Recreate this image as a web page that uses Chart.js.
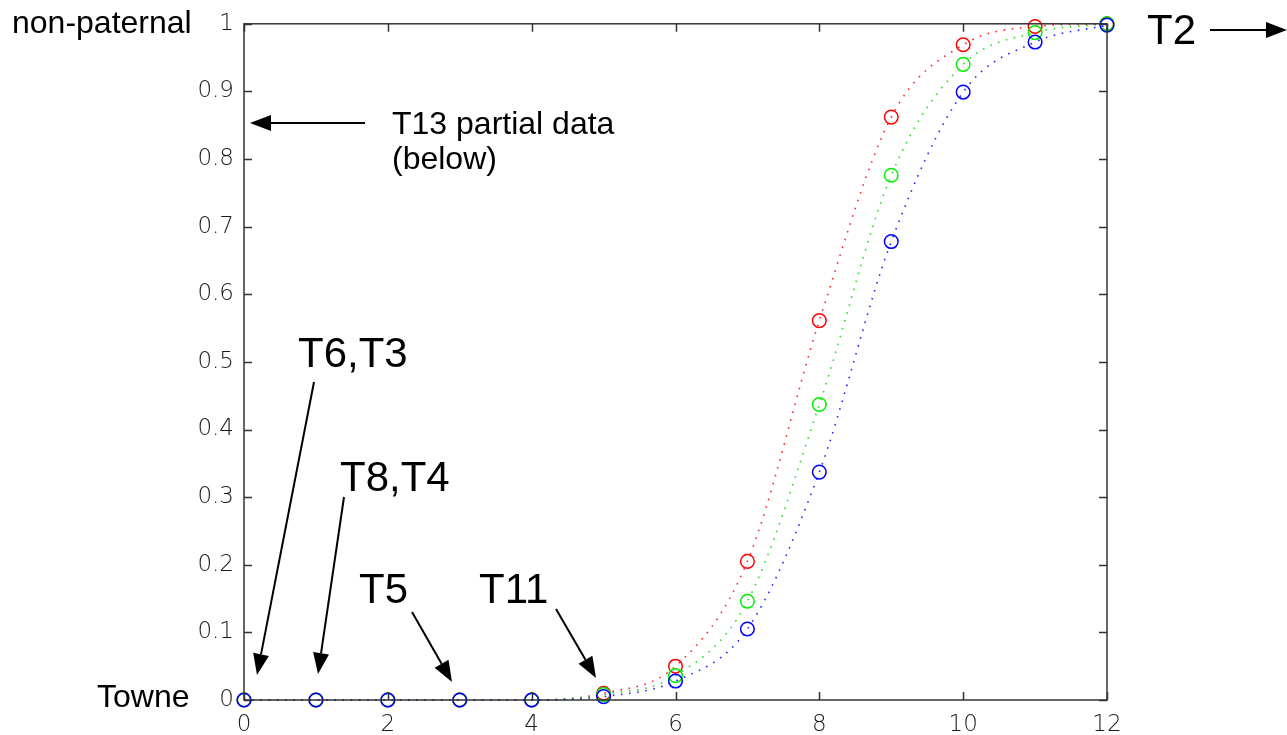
<!DOCTYPE html>
<html>
<head>
<meta charset="utf-8">
<script src="https://cdn.jsdelivr.net/npm/chart.js@4/dist/chart.umd.min.js"></script>
<style>
html,body{margin:0;padding:0;background:#fff;}
#wrap{width:1287px;height:735px;position:relative;}
</style>
</head>
<body>
<div id="wrap"><canvas id="c" width="1287" height="735"></canvas></div>
<script>
// ---- data ----
const xValues = [0, 1, 2, 3, 4, 5, 6, 7, 8, 9, 10, 11, 12];
const redValues   = [0, 0, 0, 0, 0, 0.010, 0.050, 0.205, 0.561, 0.862, 0.969, 0.996, 1.000];
const greenValues = [0, 0, 0, 0, 0, 0.008, 0.036, 0.146, 0.437, 0.776, 0.940, 0.987, 1.000];
const blueValues  = [0, 0, 0, 0, 0, 0.005, 0.028, 0.105, 0.337, 0.678, 0.899, 0.973, 0.998];
const xTickValues = [0, 2, 4, 6, 8, 10, 12];
const xTickLabels = ['0', '2', '4', '6', '8', '10', '12'];
const yTickValues = [0, 0.1, 0.2, 0.3, 0.4, 0.5, 0.6, 0.7, 0.8, 0.9, 1];
const yTickLabels = ['0', '0.1', '0.2', '0.3', '0.4', '0.5', '0.6', '0.7', '0.8', '0.9', '1'];

function pts(arr){ return xValues.map((x,i)=>({x:x, y:arr[i]})); }

function ds(label, values, color, lineColor){
  return {
    label: label,
    data: pts(values),
    borderColor: lineColor,
    borderWidth: 1.6,
    borderDash: [1.6, 6.6],
    pointStyle: 'circle',
    pointRadius: 6.8,
    pointBorderWidth: 1.5,
    pointBorderColor: color,
    pointBackgroundColor: 'rgba(0,0,0,0)',
    fill: false,
    clip: false,
    cubicInterpolationMode: 'monotone'
  };
}

const tickFont = {family: '"DejaVu Sans"', size: 23, weight: 200};

// inward ticks on all four sides + frame
const framePlugin = {
  id: 'frame',
  afterDatasetsDraw(chart){
    const ctx = chart.ctx, a = chart.chartArea;
    const xs = chart.scales.x, ys = chart.scales.y;
    ctx.save();
    ctx.strokeStyle = '#333';
    ctx.lineWidth = 1.5;
    ctx.beginPath();
    const L = 8;
    xTickValues.forEach(v=>{
      const p = Math.round(xs.getPixelForValue(v))+0.5;
      ctx.moveTo(p, a.bottom); ctx.lineTo(p, a.bottom-L);
      ctx.moveTo(p, a.top); ctx.lineTo(p, a.top+L);
    });
    yTickValues.forEach(v=>{
      const p = Math.round(ys.getPixelForValue(v))+0.5;
      ctx.moveTo(a.left, p); ctx.lineTo(a.left+L, p);
      ctx.moveTo(a.right, p); ctx.lineTo(a.right-L, p);
    });
    ctx.stroke();
    ctx.strokeRect(a.left, a.top, a.right-a.left, a.bottom-a.top);
    ctx.restore();
  }
};

// text annotations and arrows
const annoPlugin = {
  id: 'anno',
  afterDraw(chart){
    const ctx = chart.ctx;
    ctx.save();
    ctx.fillStyle = '#000';
    ctx.textBaseline = 'alphabetic';
    ctx.textAlign = 'left';
    const small = '32px "Liberation Sans", Arial, sans-serif';
    const big = '42px "Liberation Sans", Arial, sans-serif';
    const texts = [
      ['non-paternal', 12, 33, small],
      ['Towne', 97, 707, small],
      ['T13 partial data', 392, 134, small],
      ['(below)', 392, 169, small],
      ['T6,T3', 298, 367, big],
      ['T8,T4', 340, 491, big],
      ['T5', 359, 603, big],
      ['T11', 479, 603, big],
      ['T2', 1147, 44, big]
    ];
    texts.forEach(t=>{ ctx.font = t[3]; ctx.fillText(t[0], t[1], t[2]); });
    const arrows = [
      [365,123,250,123],
      [1210,30,1287,30],
      [314,382,257,675],
      [344,497,318,674],
      [412,612,452,682],
      [556,609,596,678]
    ];
    ctx.strokeStyle = '#000';
    ctx.lineWidth = 2;
    arrows.forEach(([x1,y1,x2,y2])=>{
      const ang = Math.atan2(y2-y1, x2-x1);
      const hl = 21, hw = 8;
      const bx = x2 - hl*Math.cos(ang), by = y2 - hl*Math.sin(ang);
      ctx.beginPath();
      ctx.moveTo(x1,y1); ctx.lineTo(bx,by); ctx.stroke();
      ctx.beginPath();
      ctx.moveTo(x2,y2);
      ctx.lineTo(bx + hw*Math.sin(ang), by - hw*Math.cos(ang));
      ctx.lineTo(bx - hw*Math.sin(ang), by + hw*Math.cos(ang));
      ctx.closePath(); ctx.fill();
    });
    ctx.restore();
  }
};

new Chart(document.getElementById('c'), {
  type: 'line',
  data: {
    datasets: [
      ds('blue', blueValues, '#0000ff', 'rgba(0,0,255,0.85)'),
      ds('green', greenValues, '#00ee00', 'rgba(0,220,0,0.85)'),
      ds('red', redValues, '#ff0000', 'rgba(255,0,0,0.85)')
    ]
  },
  options: {
    responsive: false,
    animation: false,
    devicePixelRatio: 1,
    layout: {padding: {left: 0, top: 22, right: 180, bottom: 0}},
    plugins: {legend: {display: false}, tooltip: {enabled: false}},
    scales: {
      x: {
        type: 'linear', min: 0, max: 12,
        afterBuildTicks(s){ s.ticks = xTickValues.map(v=>({value:v})); },
        afterFit(s){ s.height = 35; },
        grid: {display: false, drawTicks: false},
        border: {display: false},
        ticks: {
          padding: 11, color: '#1a1a1a', font: tickFont, maxRotation: 0,
          callback: (v)=>{ const i = xTickValues.indexOf(v); return i>=0 ? xTickLabels[i] : ''; }
        }
      },
      y: {
        type: 'linear', min: 0, max: 1,
        afterBuildTicks(s){ s.ticks = yTickValues.map(v=>({value:v})); },
        afterFit(s){ s.width = 244; },
        grid: {display: false, drawTicks: false},
        border: {display: false},
        ticks: {
          padding: 10, color: '#1a1a1a', font: tickFont,
          callback: (v)=>{ const i = yTickValues.findIndex(t=>Math.abs(t-v)<1e-9); return i>=0 ? yTickLabels[i] : ''; }
        }
      }
    }
  },
  plugins: [framePlugin, annoPlugin]
});
</script>
</body>
</html>
